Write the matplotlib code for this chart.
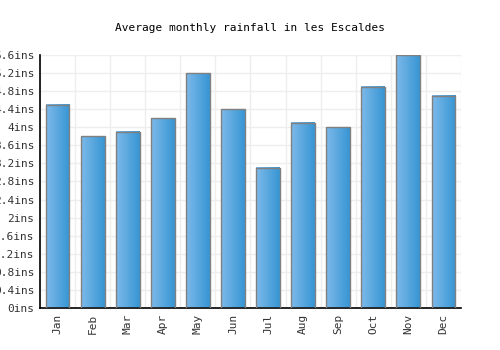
import numpy as np
import matplotlib
matplotlib.use("Agg")
import matplotlib.pyplot as plt
from matplotlib.colors import LinearSegmentedColormap

months = ["Jan", "Feb", "Mar", "Apr", "May", "Jun",
          "Jul", "Aug", "Sep", "Oct", "Nov", "Dec"]
rainfall = [4.5, 3.8, 3.9, 4.2, 5.2, 4.4, 3.1, 4.1, 4.0, 4.9, 5.6, 4.7]
yticks = [0, 0.4, 0.8, 1.2, 1.6, 2.0, 2.4, 2.8, 3.2, 3.6, 4.0, 4.4, 4.8, 5.2, 5.6]

plt.rcParams['font.family'] = ['DejaVu Sans Mono']

fig = plt.figure(figsize=(5, 3.5), dpi=100)
ax = fig.add_axes([0.08, 0.12, 0.842, 0.723])

x = np.arange(len(months))
w = 0.68
cmap = LinearSegmentedColormap.from_list("bar", ["#7db9ea", "#3796d3"])
grad = np.linspace(0, 1, 64).reshape(1, -1)

# gradient bars: one image per bar, then a grey outline on top
for xi, v in zip(x, rainfall):
    ax.imshow(grad, cmap=cmap, aspect="auto", zorder=2,
              extent=[xi - w / 2, xi + w / 2, 0, v])
ax.bar(x, rainfall, width=w, facecolor="none",
       edgecolor="#808080", linewidth=1, zorder=3)

ax.set_xlim(-0.5, len(months) - 0.5)
ax.set_ylim(0, 5.6)
ax.set_yticks(yticks)
ax.set_yticklabels([f"{v:g}ins" for v in yticks], fontsize=8, color="#333333")
ax.set_xticks(x)
ax.set_xticklabels(months, rotation=90, fontsize=8, color="#333333")
ax.tick_params(length=0, pad=4)

ax.set_xticks(np.arange(len(months) + 1) - 0.5, minor=True)
ax.tick_params(which="minor", length=0)
ax.grid(True, axis="y", color="#eeeeee", linewidth=1, zorder=0)
ax.grid(True, axis="x", which="minor", color="#eeeeee", linewidth=1, zorder=0)
ax.grid(False, axis="x", which="major")
ax.set_axisbelow(True)

for s in ["top", "right"]:
    ax.spines[s].set_visible(False)
ax.spines["left"].set_linewidth(1.2)
ax.spines["bottom"].set_linewidth(1.2)

fig.text(0.5, 0.92, "Average monthly rainfall in les Escaldes",
         ha="center", va="center", fontsize=8)

fig.savefig("out.png", dpi=100)
